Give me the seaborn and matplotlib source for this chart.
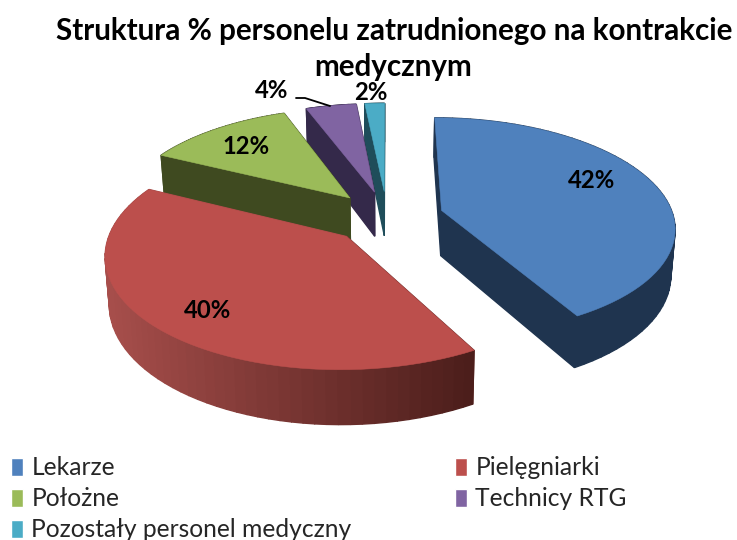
import numpy as np
import seaborn as sns
from matplotlib import pyplot as plt
from matplotlib.patches import Patch, Polygon
from matplotlib.colors import to_rgb

categories = ["Lekarze", "Pielęgniarki", "Położne", "Technicy RTG", "Pozostały personel medyczny"]
# the labels are rounded, slice widths in the picture give the decimals
values = [41.9, 40.4, 12.0, 4.1, 1.6]
top_colors = ["#4F81BD", "#BC4F4C", "#9BBB59", "#8064A2", "#4BACC6"]
side_colors = ["#1F344F", "#6E2C2A", "#3F4A20", "#34294A", "#1F4D5A"]

# chart area is in pixels of the 737x540 picture
cx, cy = 387, 217
width, height, persp = 232, 107.7, 0.144
explode = 0.245
depth = 45.6


def project(u, v):
    '''Perspective view of the pie plane, returns the top face and the bottom face points'''
    k = 1 + persp * v
    x = cx + width * u / k
    y = cy - height * v / k
    return np.column_stack([x, y]), np.column_stack([cx + (x - cx) * 0.985, y + depth / k])


def slice_outline(start, stop):
    mid = (start + stop) / 2
    angles = np.linspace(start, stop, 60)
    u = np.r_[0, np.sin(angles)] + explode * np.sin(mid)
    v = np.r_[0, np.cos(angles)] + explode * np.cos(mid)
    return project(u, v)


def draw_slice(ax, start, stop, top_color, side_color, gradient=False):
    top, bottom = slice_outline(start, stop)
    n = len(top)
    quads = []
    for i in range(n):
        j = (i + 1) % n
        quads.append((i, j, (top[i, 1] + top[j, 1]) / 2))
    # back faces first so the front ones cover them
    for i, j, _ in sorted(quads, key=lambda q: q[2]):
        color = side_color
        if gradient:
            # the lit left end of the rim fades to dark on the right
            t = np.clip((top[i, 0] - 105) / 368, 0, 1)
            color = tuple(np.array(to_rgb("#A84F4C")) * (1 - t) + np.array(to_rgb("#4C1E1B")) * t)
        ax.add_patch(Polygon([top[i], top[j], bottom[j], bottom[i]], facecolor=color, edgecolor=color, lw=1.0))
    ax.add_patch(Polygon(top, facecolor=top_color, edgecolor=top_color, lw=0.4))


sns.set_theme(style="white")
plt.rcParams['font.family'] = ['Lato', 'DejaVu Sans']
palette = sns.color_palette(top_colors)

fig = plt.figure(figsize=(7.37, 5.4), dpi=100)
ax = fig.add_axes([0, 0, 1, 1])
ax.set_xlim(0, 737)
ax.set_ylim(540, 0)
ax.axis("off")

edges = np.r_[0, np.cumsum(values)] / np.sum(values) * 2 * np.pi
# back slices first
for idx in [4, 3, 2, 0, 1]:
    draw_slice(ax, edges[idx], edges[idx + 1], palette[idx], side_colors[idx], gradient=idx == 1)

ax.text(394, 31, "Struktura % personelu zatrudnionego na kontrakcie", ha="center", va="center",
        fontsize=21.3, fontweight="bold", color="black")
ax.text(393, 67, "medycznym", ha="center", va="center", fontsize=21.3, fontweight="bold", color="black")

label_pos = [(592, 180), (208, 310), (246, 146), (272, 90), (371, 92)]
for val, (lx, ly) in zip(values, label_pos):
    ax.text(lx, ly, f"{round(val)}%", ha="center", va="center", fontsize=17.2, fontweight="bold", color="black")

ax.plot([296, 305, 330], [98, 98, 106], color="black", lw=1.3)

# legend fills row by row in the picture, matplotlib fills by column
order = [0, 2, 4, 1, 3]
handles = [Patch(facecolor=palette[i], label=categories[i]) for i in order]
fig.legend(handles=handles, ncol=2, loc="lower left", bbox_to_anchor=(0.0, -0.023), frameon=False,
           fontsize=17.7, handlelength=0.5, handleheight=0.75, handletextpad=0.33, labelspacing=0.33,
           columnspacing=4.2, borderpad=0.2, borderaxespad=0.25)

fig.savefig("out.png", dpi=100)
